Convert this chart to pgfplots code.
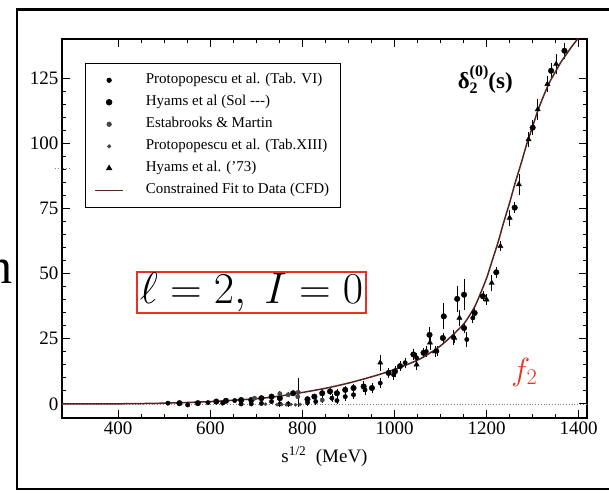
\RequirePackage{fix-cm}
\documentclass[border=0pt]{standalone}
\usepackage{fontspec}
\setmainfont{Liberation Serif}
\usepackage{pgfplots}
\usepackage{pgfplotstable}
\pgfplotsset{compat=1.18}

\definecolor{fitcol}{RGB}{85,35,35}
\definecolor{boxred}{RGB}{232,48,36}
\definecolor{estgray}{RGB}{70,70,70}

% Protopopescu et al. (Tab. VI)
\pgfplotstableread{
x y ey
508 0.3 0.5
551 -0.4 0.5
595 0.5 0.6
627 0.3 0.6
653 1.3 0.7
667 0.0 0.8
689 0.0 0.8
711 0.2 0.8
733 0.9 1.0
751 0.0 1.0
769 0.0 1.0
811 0.5 1.2
829 0.9 1.2
864 2.2 1.5
875 1.3 1.5
893 2.8 1.5
911 3.5 1.5
936 5.4 2
969 8.0 2
998 11.2 2
1023 15.8 2
1048 17.7 2
1069 20.1 2
1092 20.3 2
1128 25.5 3
1157 24.7 3
1170 33.0 2
}\protoVI

% Hyams et al (Sol ---)
\pgfplotstableread{
x y ey
533 0.3 0.5
573 0.3 0.5
613 0.9 0.6
634 1.2 0.6
667 1.5 0.8
689 1.5 0.8
711 2.2 0.8
733 2.8 1
751 2.2 1
780 4.1 1
811 1.8 1
826 2.8 1
843 4.1 1.5
860 4.8 1.5
875 4.1 1.5
893 5.4 1.5
911 6.1 1.5
933 6.7 2
951 6.1 2
987 11.9 2
1001 12.5 2
1012 14.5 2
1041 19.0 2
1063 19.6 2
1076 26.5 3
1105 25.3 2
1107 33.6 5
1136 40.3 5
1151 41.9 6
1151 29.1 2
1174 34.9 2
1192 41.3 2
1221 50.5 2
1261 75.3 2
1300 106.0 3
1340 127.8 3
1369 135.5 3
}\hyamsSol

% Estabrooks & Martin
\pgfplotstableread{
x y ey
696 2.2 0.8
751 3.9 1
769 3.5 1
790 2.8 1
791 4.5 5.5
843 1.5 1
}\estab

% Protopopescu et al. (Tab.XIII)
\pgfplotstableread{
x y ey
720 -0.1 0.3
745 -0.3 0.3
755 -0.2 0.3
765 -0.3 0.3
775 -0.2 0.3
785 -0.3 0.3
795 -0.2 0.3
}\protoXIII

% Hyams et al. ('73)
\pgfplotstableread{
x y ey
969 15.8 3
1048 15.1 2
1077 23.5 3
1088 20.1 2
1130 25.3 2
1141 33.0 3
1200 40.0 2
1211 46.4 3
1230 60.5 2
1250 71.4 3
1270 84.2 4
1291 101.5 3
1311 113.0 4
1332 122.7 3
1351 130.4 4
}\hyamsSeventy

\begin{document}
\begin{tikzpicture}[x=1pt,y=1pt]
\useasboundingbox (0,0) rectangle (609,492);
\draw[line width=2.5pt] (17,3) rectangle (700,482.5);
\node[anchor=base east, inner sep=0pt, font=\fontsize{50}{50}\selectfont] at (13,208) {$\mathrm{n}$};
\draw[gray, dotted, line width=0.8pt] (55,324) -- (70,324);

\begin{axis}[
    at={(62pt,74pt)}, anchor=south west,
    scale only axis,
    width=525pt, height=379pt,
    xmin=278, xmax=1418,
    ymin=-5.4, ymax=140,
    xtick={400,600,...,1400},
    ytick={0,25,...,125},
    minor x tick num=3,
    minor y tick num=4,
    tick align=inside,
    major tick length=8pt,
    minor tick length=4pt,
    axis line style={line width=1.5pt},
    every tick/.append style={black, line width=0.9pt},
    tick label style={font=\fontsize{19}{19}\selectfont},
    /pgf/number format/assume math mode=true,
    /pgf/number format/1000 sep={},
    xlabel={s\textsuperscript{1/2}\ \ (MeV)},
    xlabel style={font=\fontsize{19}{19}\selectfont, at={(axis description cs:0.5,0)}, anchor=north, yshift=-25pt},
    legend style={at={(0.0438,0.937)}, anchor=north west, draw=black, line width=0.8pt, fill=white,
        font=\fontsize{15}{18}\selectfont, inner xsep=9pt, inner ysep=6pt,
        nodes={text height=11pt, text depth=4pt, inner ysep=3.5pt},
        /tikz/every odd column/.append style={column sep=20pt}},
    legend cell align=left,
    legend image code/.code={\draw[mark repeat=2,mark phase=2,#1] plot coordinates {(0pt,0pt) (14pt,0pt) (28pt,0pt)};},
    error bars/error bar style={line width=0.7pt, black},
    error bars/error mark=none,
]
\addplot[gray, dotted, line width=0.8pt, forget plot] coordinates {(278,0) (1418,0)};

\addplot[only marks, mark=*, mark size=2.2pt, black,
    error bars/.cd, y dir=both, y explicit] table[x=x, y=y, y error=ey] {\protoVI};
\addlegendentry{Protopopescu et al. (Tab. VI)}

\addplot[only marks, mark=*, mark size=2.8pt, black,
    error bars/.cd, y dir=both, y explicit] table[x=x, y=y, y error=ey] {\hyamsSol};
\addlegendentry{Hyams et al (Sol {-}{-}{-})}

\addplot[only marks, mark=*, mark size=2.2pt, estgray,
    error bars/.cd, y dir=both, y explicit] table[x=x, y=y, y error=ey] {\estab};
\addlegendentry{Estabrooks \& Martin}

\addplot[only marks, mark=*, mark size=1.6pt, estgray,
    error bars/.cd, y dir=both, y explicit] table[x=x, y=y, y error=ey] {\protoXIII};
\addlegendentry{Protopopescu et al. (Tab.XIII)}

\addplot[only marks, mark=triangle*, mark size=3pt, black,
    error bars/.cd, y dir=both, y explicit] table[x=x, y=y, y error=ey] {\hyamsSeventy};
\addlegendentry{Hyams et al. ('73)}

\addplot[fitcol, line width=1.5pt, smooth, mark=none] coordinates {
    (278,0) (400,0.05) (500,0.3) (600,0.9) (700,2.0) (750,3.0) (800,4.4)
    (850,6.0) (900,8.0) (950,10.4) (1000,13.2) (1050,16.8) (1075,19.3)
    (1100,22.3) (1125,26.2) (1150,30.6) (1162,33.7) (1175,37.6) (1187,42.5)
    (1200,48.3) (1212,54.9) (1225,62.1) (1237,69.6) (1250,77.2) (1262,84.8)
    (1275,92.3) (1287,99.6) (1300,106.5) (1312,112.9) (1325,118.7)
    (1337,123.5) (1350,127.6) (1362,131.3) (1375,134.6) (1387,137.6)
    (1400,140.5)
};
\addlegendentry{Constrained Fit to Data (CFD)}

\node[font=\bfseries\fontsize{23}{23}\selectfont] at (axis cs:1197,124.5)
    {δ\rlap{\raisebox{-0.5ex}{\fontsize{16}{16}\selectfont 2}}\raisebox{1.1ex}{\fontsize{16}{16}\selectfont (0)}(s)};
\node[text=boxred, font=\fontsize{32}{32}\selectfont] at (axis cs:1282,12.2) {$f_2$};
\end{axis}

\node[draw=boxred, line width=2pt, fill=white, minimum width=229pt, minimum height=41pt,
    inner sep=0pt, font=\fontsize{44}{44}\selectfont] at (251.5,199.5) {$\ell = 2,\ I = 0$};
\end{tikzpicture}
\end{document}
